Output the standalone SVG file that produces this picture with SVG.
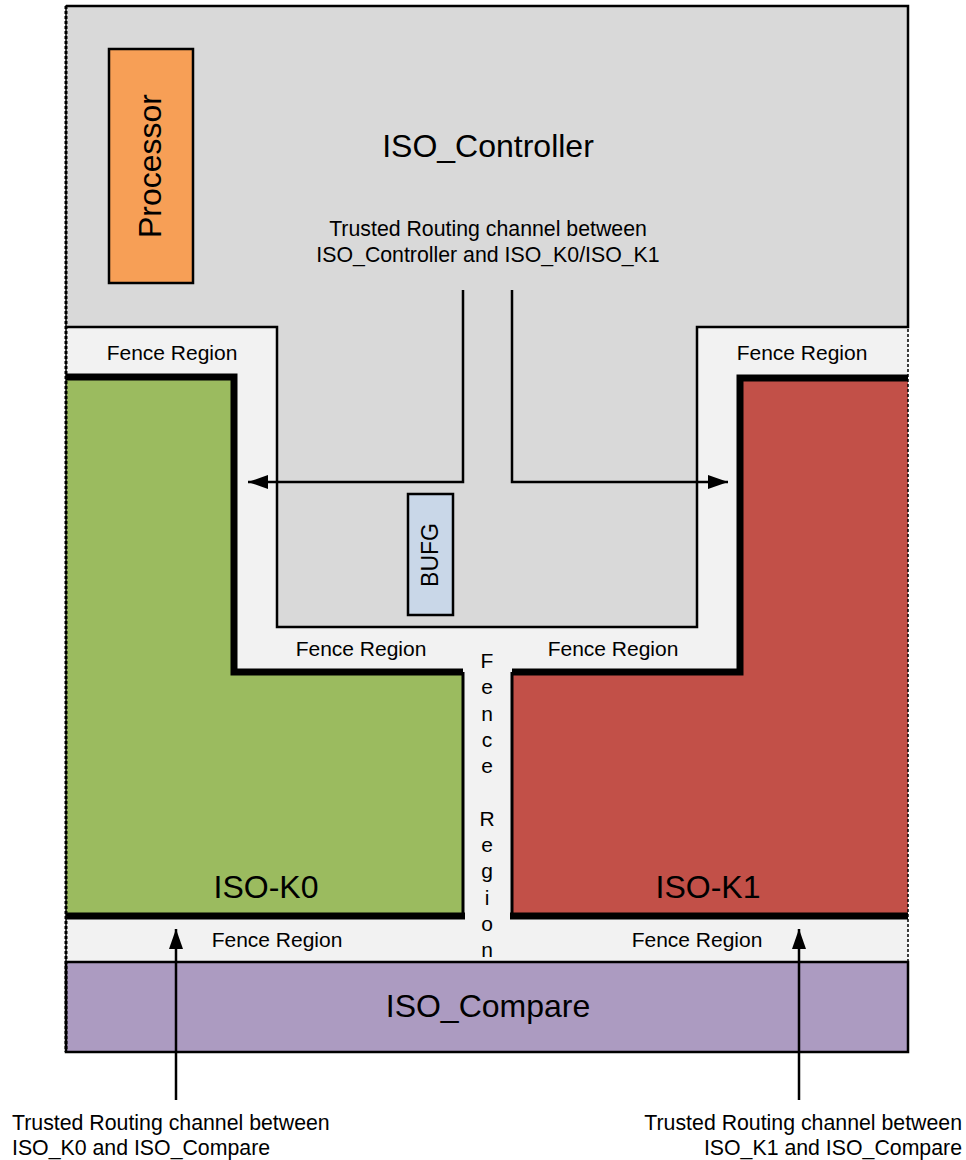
<svg xmlns="http://www.w3.org/2000/svg" width="966" height="1160" viewBox="0 0 966 1160">
<style>
text{font-family:"Liberation Sans",Arial,sans-serif;fill:#000}
.big{font-size:32px}
.mid{font-size:21.3px}
.fence{font-size:21px;text-anchor:middle}
.c{text-anchor:middle}
.thick{stroke:#000;stroke-width:7;fill:none}
.thin{stroke:#000;stroke-width:3;fill:none}
.edge{stroke:#000;stroke-width:2.5;fill:none}
.conn{stroke:#000;stroke-width:2.5;fill:none}
</style>
<defs>
<marker id="ahb" viewBox="0 0 20 14" refX="20" refY="7" markerWidth="20" markerHeight="14" markerUnits="userSpaceOnUse" orient="auto">
<path d="M0,0 L20,7 L0,14 z" fill="#000"/>
</marker>
</defs>
<rect width="966" height="1160" fill="#fff"/>
<rect id="fence-bg" x="66" y="6" width="842" height="1046" fill="#f2f2f2"/>

<g id="iso-controller">
<polygon points="66,6 908,6 908,327 697,327 697,627 277,627 277,327 66,327" fill="#d9d9d9"/>
<path class="edge" d="M66,6 H908 V327 H697 V627 H277 V327 H66"/>
<text class="big c" x="488" y="157">ISO_Controller</text>
<text class="mid c" x="488" y="236">Trusted Routing channel between</text>
<text class="mid c" x="488" y="262">ISO_Controller and ISO_K0/ISO_K1</text>
</g>

<g id="processor">
<rect x="109" y="49" width="84" height="234" fill="#f79f56" stroke="#000" stroke-width="2.5"/>
<text class="big c" transform="translate(161,166) rotate(-90)">Processor</text>
</g>

<g id="bufg">
<rect x="408" y="494" width="45" height="121" fill="#c9d7e8" stroke="#000" stroke-width="2.5"/>
<text class="c" style="font-size:23px" transform="translate(438,555) rotate(-90)">BUFG</text>
</g>

<g id="iso-k0">
<polygon points="66,377 234,377 234,672 463,672 463,916 66,916" fill="#9bbb5f"/>
<polyline class="thick" points="66,377 234,377 234,672 463,672"/>
<line class="thin" x1="463" y1="672" x2="463" y2="916"/>
<line class="thick" x1="66" y1="916" x2="465" y2="916"/>
<text class="big c" x="266" y="898">ISO-K0</text>
</g>

<g id="iso-k1">
<polygon points="740,378 908,378 908,916 512,916 512,672 740,672" fill="#c25048"/>
<polyline class="thick" points="908,378 740,378 740,672 512,672"/>
<line class="thin" x1="512" y1="672" x2="512" y2="916"/>
<line class="thick" x1="510" y1="916" x2="908" y2="916"/>
<text class="big c" x="708" y="898">ISO-K1</text>
</g>

<g id="iso-compare">
<rect x="66" y="962" width="842" height="90" fill="#ac9bc1" stroke="#000" stroke-width="2.5"/>
<text class="big c" x="488" y="1017">ISO_Compare</text>
</g>

<g id="fence-labels">
<text class="fence" x="172" y="360">Fence Region</text>
<text class="fence" x="802" y="360">Fence Region</text>
<text class="fence" x="361" y="656">Fence Region</text>
<text class="fence" x="613" y="656">Fence Region</text>
<text class="fence" x="277" y="947">Fence Region</text>
<text class="fence" x="697" y="947">Fence Region</text>
<text class="fence" x="487" y="668">F<tspan x="487" dy="26.3">e</tspan><tspan x="487" dy="26.3">n</tspan><tspan x="487" dy="26.3">c</tspan><tspan x="487" dy="26.3">e</tspan><tspan x="487" dy="52.6">R</tspan><tspan x="487" dy="26.3">e</tspan><tspan x="487" dy="26.3">g</tspan><tspan x="487" dy="26.3">i</tspan><tspan x="487" dy="26.3">o</tspan><tspan x="487" dy="26.3">n</tspan></text>
</g>

<rect id="outer-border" x="66" y="6" width="842" height="1046" fill="none" stroke="#000" stroke-width="1.5" stroke-dasharray="3,2"/>
<line id="outer-border-left" x1="66" y1="6" x2="66" y2="1052" stroke="#000" stroke-width="3" stroke-dasharray="3,2"/>

<g id="connectors">
<polyline class="conn" points="463,290 463,482 248,482" marker-end="url(#ahb)"/>
<polyline class="conn" points="512,290 512,482 728,482" marker-end="url(#ahb)"/>
<line class="conn" x1="176" y1="1100" x2="176" y2="929" marker-end="url(#ahb)"/>
<line class="conn" x1="799" y1="1100" x2="799" y2="929" marker-end="url(#ahb)"/>
</g>

<g id="bottom-labels">
<text class="mid" x="12" y="1130">Trusted Routing channel between</text>
<text class="mid" x="12" y="1155">ISO_K0 and ISO_Compare</text>
<text class="mid" x="962" y="1130" text-anchor="end">Trusted Routing channel between</text>
<text class="mid" x="962" y="1155" text-anchor="end">ISO_K1 and ISO_Compare</text>
</g>
</svg>
